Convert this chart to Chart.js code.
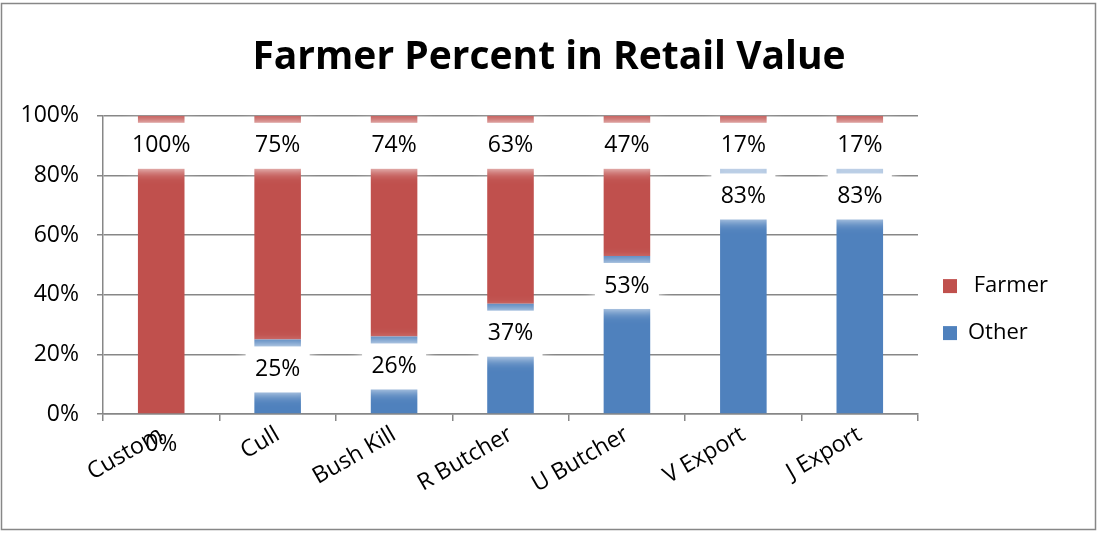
<!DOCTYPE html>
<html>
<head>
<meta charset="utf-8">
<script src="https://cdn.jsdelivr.net/npm/chart.js@4/dist/chart.umd.min.js"></script>
<style>
  html, body { margin: 0; padding: 0; background: #fff; }
  canvas { display: block; }
</style>
</head>
<body>
<canvas id="myCanvas" width="1098" height="533"></canvas>
<script>
const categories = ['Custom', 'Cull', 'Bush Kill', 'R Butcher', 'U Butcher', 'V Export', 'J Export'];
const otherPct = [0, 25, 26, 37, 53, 83, 83];
const farmerPct = [100, 75, 74, 63, 47, 17, 17];
const yTicks = [0, 20, 40, 60, 80, 100];
const seriesNames = ['Other', ' Farmer'];

const fontFamily = '"Open Sans", Lato, sans-serif';
const gridColor = '#878787';

// white label boxes like the Excel data labels
const labelPlugin = {
    id: 'barLabels',
    afterDraw: function (chart) {
        const ctx = chart.ctx;
        ctx.save();
        ctx.font = '23px ' + fontFamily;
        ctx.textAlign = 'center';
        ctx.textBaseline = 'middle';
        chart.data.datasets.forEach(function (ds, i) {
            const meta = chart.getDatasetMeta(i);
            meta.data.forEach(function (bar, j) {
                const value = ds.data[j];
                const cx = bar.x;
                const cy = bar.y + 30;
                if (value > 0) {
                    ctx.save();
                    ctx.shadowColor = '#ffffff';
                    ctx.shadowBlur = 12;
                    ctx.fillStyle = '#ffffff';
                    ctx.fillRect(cx - 32, cy - 23, 64, 46);
                    ctx.restore();
                }
                ctx.fillStyle = '#000000';
                ctx.fillText(value + '%', cx, cy);
            });
        });
        ctx.restore();
    }
};

// outer frame + fixed legend width so the plot ends where Excel put it
const framePlugin = {
    id: 'frame',
    afterInit: function (chart) {
        const legend = chart.legend;
        const fit = legend.fit;
        legend.fit = function () {
            fit.call(this);
            this.width = 160;
        };
    },
    afterDraw: function (chart) {
        const ctx = chart.ctx;
        ctx.save();
        ctx.strokeStyle = gridColor;
        ctx.lineWidth = 1.5;
        ctx.strokeRect(1.5, 3.5, 1094, 526);
        ctx.restore();
    }
};

new Chart(document.getElementById('myCanvas'), {
    type: 'bar',
    data: {
        labels: categories,
        datasets: [
            {
                label: seriesNames[0],
                data: otherPct,
                backgroundColor: '#4F81BD',
                barPercentage: 0.4,
                categoryPercentage: 1.0
            },
            {
                label: seriesNames[1],
                data: farmerPct,
                backgroundColor: '#C0504D',
                barPercentage: 0.4,
                categoryPercentage: 1.0
            }
        ]
    },
    options: {
        responsive: false,
        animation: false,
        layout: { padding: { top: 8, left: 20, right: 20, bottom: 4 } },
        plugins: {
            tooltip: { enabled: false },
            title: {
                display: true,
                text: 'Farmer Percent in Retail Value',
                color: '#000000',
                font: { family: fontFamily, size: 39, weight: 'bold' },
                padding: { top: 26, bottom: 35 }
            },
            legend: {
                position: 'right',
                reverse: true,
                title: {
                    display: true,
                    text: '',
                    font: { size: 1 },
                    padding: { top: 81, bottom: 0 }
                },
                labels: {
                    color: '#000000',
                    font: { family: fontFamily, size: 22 },
                    boxWidth: 14,
                    boxHeight: 14,
                    padding: 25
                }
            }
        },
        scales: {
            x: {
                stacked: true,
                afterFit: function (scale) {
                    scale.paddingLeft = 0;
                    scale.paddingRight = 0;
                    scale.height = 115;
                },
                grid: {
                    display: true,
                    drawOnChartArea: false,
                    drawTicks: true,
                    tickLength: 7,
                    color: gridColor,
                    lineWidth: 1.5
                },
                border: { display: true, color: gridColor, width: 1.5 },
                ticks: {
                    color: '#000000',
                    font: { family: fontFamily, size: 23 },
                    minRotation: 30,
                    maxRotation: 30,
                    padding: 0
                }
            },
            y: {
                stacked: true,
                min: 0,
                max: 100,
                afterBuildTicks: function (scale) {
                    scale.ticks = yTicks.map(function (v) { return { value: v }; });
                },
                afterFit: function (scale) {
                    scale.width = 83;
                },
                grid: {
                    color: gridColor,
                    lineWidth: 1.5,
                    drawTicks: true,
                    tickLength: 6
                },
                border: { display: true, color: gridColor, width: 1.5 },
                ticks: {
                    color: '#000000',
                    font: { family: fontFamily, size: 23 },
                    padding: 18,
                    callback: function (v) { return v + '%'; }
                }
            }
        }
    },
    plugins: [labelPlugin, framePlugin]
});
</script>
</body>
</html>
